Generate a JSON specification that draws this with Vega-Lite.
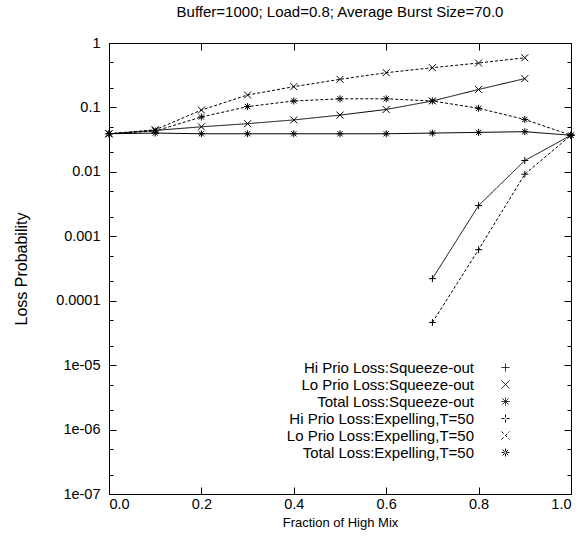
{
  "$schema": "https://vega.github.io/schema/vega-lite/v6.json",
  "autosize": "none",
  "padding": {"left": 109, "top": 43, "right": 10, "bottom": 53},
  "width": 462,
  "height": 451,
  "title": {"text": "Buffer=1000; Load=0.8; Average Burst Size=70.0", "font": "Liberation Sans", "fontSize": 15, "fontWeight": "normal", "color": "black", "anchor": "middle", "offset": 15},
  "config": {
    "view": {"stroke": "black", "strokeWidth": 1},
    "axis": {"grid": false, "domain": false, "labelFont": "Liberation Sans", "labelFontSize": 14.5, "labelColor": "black", "titleFont": "Liberation Sans", "titleFontSize": 13, "titleFontWeight": "normal", "titleColor": "black"}
  },
  "data": {"values": [
    {"x": 0.7, "y": 0.00022, "series": "Hi Prio Loss:Squeeze-out"},
    {"x": 0.8, "y": 0.0030, "series": "Hi Prio Loss:Squeeze-out"},
    {"x": 0.9, "y": 0.015, "series": "Hi Prio Loss:Squeeze-out"},
    {"x": 1.0, "y": 0.037, "series": "Hi Prio Loss:Squeeze-out"},
    {"x": 0.0, "y": 0.039, "series": "Lo Prio Loss:Squeeze-out"},
    {"x": 0.1, "y": 0.044, "series": "Lo Prio Loss:Squeeze-out"},
    {"x": 0.2, "y": 0.050, "series": "Lo Prio Loss:Squeeze-out"},
    {"x": 0.3, "y": 0.056, "series": "Lo Prio Loss:Squeeze-out"},
    {"x": 0.4, "y": 0.064, "series": "Lo Prio Loss:Squeeze-out"},
    {"x": 0.5, "y": 0.076, "series": "Lo Prio Loss:Squeeze-out"},
    {"x": 0.6, "y": 0.093, "series": "Lo Prio Loss:Squeeze-out"},
    {"x": 0.7, "y": 0.126, "series": "Lo Prio Loss:Squeeze-out"},
    {"x": 0.8, "y": 0.19, "series": "Lo Prio Loss:Squeeze-out"},
    {"x": 0.9, "y": 0.28, "series": "Lo Prio Loss:Squeeze-out"},
    {"x": 0.0, "y": 0.039, "series": "Total Loss:Squeeze-out"},
    {"x": 0.1, "y": 0.040, "series": "Total Loss:Squeeze-out"},
    {"x": 0.2, "y": 0.039, "series": "Total Loss:Squeeze-out"},
    {"x": 0.3, "y": 0.039, "series": "Total Loss:Squeeze-out"},
    {"x": 0.4, "y": 0.039, "series": "Total Loss:Squeeze-out"},
    {"x": 0.5, "y": 0.039, "series": "Total Loss:Squeeze-out"},
    {"x": 0.6, "y": 0.039, "series": "Total Loss:Squeeze-out"},
    {"x": 0.7, "y": 0.040, "series": "Total Loss:Squeeze-out"},
    {"x": 0.8, "y": 0.041, "series": "Total Loss:Squeeze-out"},
    {"x": 0.9, "y": 0.042, "series": "Total Loss:Squeeze-out"},
    {"x": 1.0, "y": 0.037, "series": "Total Loss:Squeeze-out"},
    {"x": 0.7, "y": 0.000046, "series": "Hi Prio Loss:Expelling,T=50"},
    {"x": 0.8, "y": 0.00062, "series": "Hi Prio Loss:Expelling,T=50"},
    {"x": 0.9, "y": 0.0092, "series": "Hi Prio Loss:Expelling,T=50"},
    {"x": 1.0, "y": 0.037, "series": "Hi Prio Loss:Expelling,T=50"},
    {"x": 0.0, "y": 0.039, "series": "Lo Prio Loss:Expelling,T=50"},
    {"x": 0.1, "y": 0.045, "series": "Lo Prio Loss:Expelling,T=50"},
    {"x": 0.2, "y": 0.091, "series": "Lo Prio Loss:Expelling,T=50"},
    {"x": 0.3, "y": 0.156, "series": "Lo Prio Loss:Expelling,T=50"},
    {"x": 0.4, "y": 0.21, "series": "Lo Prio Loss:Expelling,T=50"},
    {"x": 0.5, "y": 0.273, "series": "Lo Prio Loss:Expelling,T=50"},
    {"x": 0.6, "y": 0.346, "series": "Lo Prio Loss:Expelling,T=50"},
    {"x": 0.7, "y": 0.414, "series": "Lo Prio Loss:Expelling,T=50"},
    {"x": 0.8, "y": 0.489, "series": "Lo Prio Loss:Expelling,T=50"},
    {"x": 0.9, "y": 0.59, "series": "Lo Prio Loss:Expelling,T=50"},
    {"x": 0.0, "y": 0.039, "series": "Total Loss:Expelling,T=50"},
    {"x": 0.1, "y": 0.043, "series": "Total Loss:Expelling,T=50"},
    {"x": 0.2, "y": 0.071, "series": "Total Loss:Expelling,T=50"},
    {"x": 0.3, "y": 0.103, "series": "Total Loss:Expelling,T=50"},
    {"x": 0.4, "y": 0.126, "series": "Total Loss:Expelling,T=50"},
    {"x": 0.5, "y": 0.136, "series": "Total Loss:Expelling,T=50"},
    {"x": 0.6, "y": 0.136, "series": "Total Loss:Expelling,T=50"},
    {"x": 0.7, "y": 0.126, "series": "Total Loss:Expelling,T=50"},
    {"x": 0.8, "y": 0.097, "series": "Total Loss:Expelling,T=50"},
    {"x": 0.9, "y": 0.065, "series": "Total Loss:Expelling,T=50"},
    {"x": 1.0, "y": 0.037, "series": "Total Loss:Expelling,T=50"}
  ]},
  "layer": [
    {
      "mark": {"type": "line", "color": "black", "strokeWidth": 1},
      "encoding": {
        "x": {"field": "x", "type": "quantitative", "scale": {"domain": [0, 1], "nice": false, "zero": false},
              "axis": {"orient": "bottom", "values": [0, 0.2, 0.4, 0.6, 0.8, 1], "ticks": true, "tickSize": 7, "offset": -7, "tickColor": "black", "tickWidth": 1, "labelPadding": 3, "title": "Fraction of High Mix", "titlePadding": 6}},
        "y": {"field": "y", "type": "quantitative", "scale": {"type": "log", "domain": [1e-7, 1], "nice": false},
              "axis": {"orient": "left", "values": [1, 0.1, 0.01, 0.001, 0.0001, 0.00001, 0.000001, 0.0000001], "ticks": true, "tickSize": 7, "offset": -7, "tickColor": "black", "tickWidth": 1, "labelPadding": 9,
                       "labelExpr": "datum.value > 0.5 ? '1' : datum.value > 0.05 ? '0.1' : datum.value > 0.005 ? '0.01' : datum.value > 0.0005 ? '0.001' : datum.value > 0.00005 ? '0.0001' : datum.value > 0.000005 ? '1e-05' : datum.value > 0.0000005 ? '1e-06' : '1e-07'",
                       "title": "Loss Probability", "titleFontSize": 16, "titlePadding": 26}},
        "strokeDash": {"field": "series", "type": "nominal",
          "scale": {"domain": ["Hi Prio Loss:Squeeze-out", "Lo Prio Loss:Squeeze-out", "Total Loss:Squeeze-out", "Hi Prio Loss:Expelling,T=50", "Lo Prio Loss:Expelling,T=50", "Total Loss:Expelling,T=50"],
                    "range": [[1, 0], [1, 0], [1, 0], [3, 2], [3, 2], [3, 2]]},
          "legend": {"orient": "none", "legendX": 389, "legendY": 317, "title": null, "padding": 0, "labelAlign": "right", "labelOffset": -39,
                     "labelFont": "Liberation Sans", "labelFontSize": 15, "labelColor": "black", "symbolSize": 64, "symbolStrokeWidth": 1, "symbolStrokeColor": "black", "symbolFillColor": "transparent", "rowPadding": 1, "labelLimit": 300,
                     "symbolType": "M-5.5,0H5.5M0,-0.6V0.6M-0.6,-0.6L0.6,0.6M-0.6,0.6L0.6,-0.6"}
        }
      }
    },
    {
      "mark": {"type": "point", "filled": false, "color": "black", "strokeWidth": 1, "size": 49, "opacity": 1},
      "encoding": {
        "x": {"field": "x", "type": "quantitative", "scale": {"domain": [0, 1], "nice": false, "zero": false},
              "axis": {"orient": "top", "values": [0, 0.2, 0.4, 0.6, 0.8, 1], "labels": false, "tickSize": -7, "tickColor": "black", "tickWidth": 1, "title": null}},
        "y": {"field": "y", "type": "quantitative", "scale": {"type": "log", "domain": [1e-7, 1], "nice": false},
              "axis": {"orient": "right", "values": [1, 0.1, 0.01, 0.001, 0.0001, 0.00001, 0.000001, 0.0000001], "labels": false, "tickSize": -7, "tickColor": "black", "tickWidth": 1, "title": null}},
        "shape": {"field": "series", "type": "nominal",
          "scale": {"domain": ["Hi Prio Loss:Squeeze-out", "Lo Prio Loss:Squeeze-out", "Total Loss:Squeeze-out", "Hi Prio Loss:Expelling,T=50", "Lo Prio Loss:Expelling,T=50", "Total Loss:Expelling,T=50"],
                    "range": ["M-1,0H1M0,-1V1", "M-1,-1L1,1M-1,1L1,-1", "M-1,0H1M0,-1V1M-0.75,-0.75L0.75,0.75M-0.75,0.75L0.75,-0.75", "M-1,0H1M0,-1V1", "M-1,-1L1,1M-1,1L1,-1", "M-1,0H1M0,-1V1M-0.75,-0.75L0.75,0.75M-0.75,0.75L0.75,-0.75"]},
          "legend": null}
      }
    },
    {
      "mark": {"type": "point", "opacity": 0},
      "encoding": {
        "x": {"field": "x", "type": "quantitative", "scale": {"domain": [0, 1], "nice": false, "zero": false}, "axis": null},
        "y": {"field": "y", "type": "quantitative", "scale": {"type": "log", "domain": [1e-7, 1], "nice": false},
              "axis": {"orient": "left", "values": [0.5, 0.2, 0.05, 0.02, 0.005, 0.002, 0.0005, 0.0002, 0.00005, 0.00002, 0.000005, 0.000002, 0.0000005, 0.0000002], "labels": false, "tickSize": -4, "tickColor": "black", "tickWidth": 1, "title": null}}
      }
    },
    {
      "mark": {"type": "point", "opacity": 0},
      "encoding": {
        "x": {"field": "x", "type": "quantitative", "scale": {"domain": [0, 1], "nice": false, "zero": false}, "axis": null},
        "y": {"field": "y", "type": "quantitative", "scale": {"type": "log", "domain": [1e-7, 1], "nice": false},
              "axis": {"orient": "right", "values": [0.5, 0.2, 0.05, 0.02, 0.005, 0.002, 0.0005, 0.0002, 0.00005, 0.00002, 0.000005, 0.000002, 0.0000005, 0.0000002], "labels": false, "tickSize": -4, "tickColor": "black", "tickWidth": 1, "title": null}}
      }
    }
  ],
  "resolve": {"axis": {"x": "independent", "y": "independent"}}
}
